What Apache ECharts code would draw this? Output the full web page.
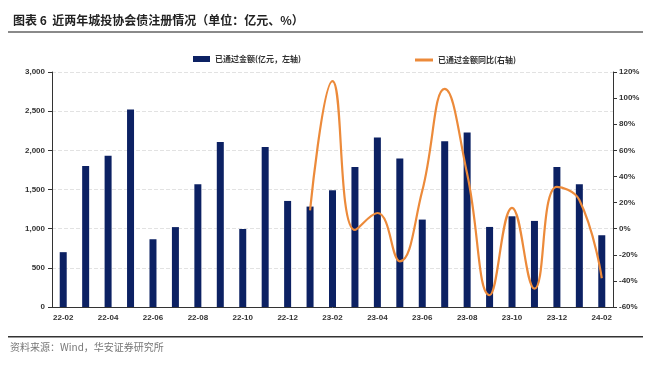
<!DOCTYPE html>
<html><head><meta charset="utf-8">
<script src="https://cdn.jsdelivr.net/npm/echarts@6/dist/echarts.min.js"></script>
<style>html,body{margin:0;padding:0;background:#fff}#c{width:650px;height:366px}</style>
</head><body><div id="c"></div>
<script>
const categories = ['22-02','22-03','22-04','22-05','22-06','22-07','22-08','22-09','22-10','22-11','22-12','23-01','23-02','23-03','23-04','23-05','23-06','23-07','23-08','23-09','23-10','23-11','23-12','24-01','24-02'];
const amount = [700,1800,1930,2520,865,1020,1567,2105,996,2043,1354,1282,1490,1788,2163,1895,1116,2116,2227,1022,1158,1099,1788,1567,916];
const yoy = [null,null,null,null,null,null,null,null,null,null,null,14,113,-1,12,-25,29,107,42,-51,16,-46,32,22,-38];
const leftTicks = [0,500,1000,1500,2000,2500,3000];
const rightTicks = [-60,-40,-20,0,20,40,60,80,100,120];
const barName = '已通过金额(亿元，左轴)';
const lineName = '已通过金额同比(右轴)';

const chart = echarts.init(document.getElementById('c'));
const lblFont = {fontFamily:'Liberation Sans, Arial', fontSize:8, fontWeight:'bold', color:'#333'};
chart.setOption({
  animation:false,
  title:{text:'图表 6  近两年城投协会债注册情况（单位：亿元、%）', left:8, top:9,
    textStyle:{fontFamily:'Noto Sans CJK SC', fontSize:12, fontWeight:'bold', color:'#222'}},
  graphic:[
    {type:'rect', shape:{x:8,y:31,width:635,height:2}, style:{fill:'#8a8a8a'}},
    {type:'rect', shape:{x:8,y:336,width:635,height:1.5}, style:{fill:'#333'}},
    {type:'text', left:10, top:342, style:{text:'资料来源：Wind，华安证券研究所', fontFamily:'Noto Sans CJK SC', fontSize:10, fill:'#777'}}
  ],
  legend:[
    {data:[{name:barName, icon:'rect'}], left:188, top:50, itemWidth:17, itemHeight:6,
      textStyle:{fontFamily:'Noto Sans CJK SC', fontSize:8, fontWeight:'bold', color:'#333'}},
    {data:[{name:lineName, icon:'rect'}], left:410, top:51, itemWidth:18, itemHeight:3,
      textStyle:{fontFamily:'Noto Sans CJK SC', fontSize:8, fontWeight:'bold', color:'#333'}}
  ],
  grid:{left:52, right:37, top:72, bottom:59},
  xAxis:{type:'category', data:categories,
    axisLine:{lineStyle:{color:'#333'}},
    axisTick:{interval:1, length:4, lineStyle:{color:'#333'}},
    axisLabel:Object.assign({interval:1, margin:7}, lblFont)},
  yAxis:[
    {type:'value', min:0, max:3000, interval:500,
      axisLine:{show:true, lineStyle:{color:'#333'}},
      axisTick:{show:true, length:4, lineStyle:{color:'#333'}},
      axisLabel:Object.assign({margin:7, formatter:v=>v.toLocaleString('en-US')}, lblFont),
      splitLine:{show:true, lineStyle:{color:'#e2e2e2', type:'dashed'}}},
    {type:'value', min:-60, max:120, interval:20, position:'right',
      axisLine:{show:true, lineStyle:{color:'#333'}},
      axisTick:{show:true, length:4, lineStyle:{color:'#333'}},
      axisLabel:Object.assign({margin:6, formatter:v=>v+'%'}, lblFont),
      splitLine:{show:false}}
  ],
  series:[
    {name:barName, type:'bar', data:amount, barWidth:7, itemStyle:{color:'#0c2163'}},
    {name:lineName, type:'line', yAxisIndex:1, data:yoy, smooth:0.45, showSymbol:false,
      lineStyle:{color:'#EC8A3A', width:2.2}, itemStyle:{color:'#EC8A3A'}}
  ]
});
</script></body></html>
